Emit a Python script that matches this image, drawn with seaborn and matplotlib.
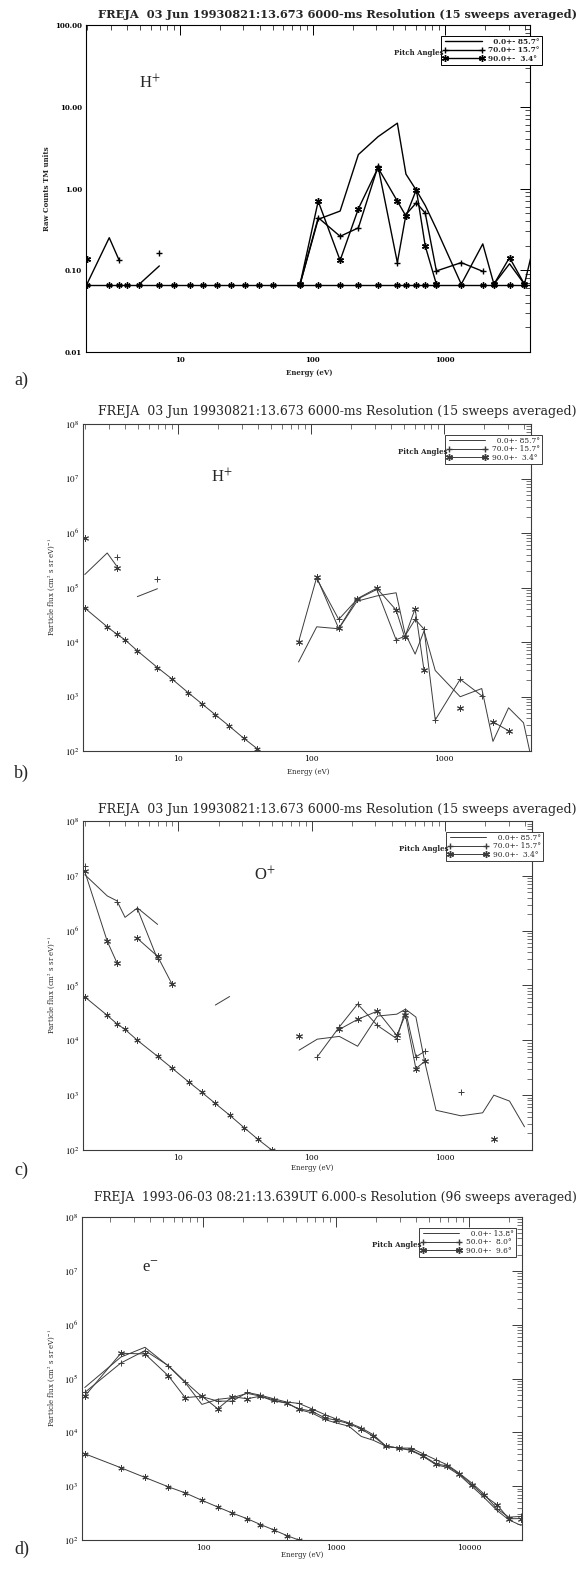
import numpy as np
import matplotlib
matplotlib.use("Agg")
import matplotlib.pyplot as plt
import matplotlib.ticker as mticker
from matplotlib.lines import Line2D
import seaborn as sns

n = np.nan

# ion energy steps (eV) used by panels a-c; the last one sits just past the right edge
energy_ion = [1.98, 2.92, 3.45, 3.97, 4.92, 6.97, 8.96, 11.9, 15.0, 18.9,
              24.2, 31.1, 39.3, 50.1, 80.3, 110, 161, 221, 311, 435,
              505, 605, 706, 857, 1320, 1918, 2328, 3052, 3953, 4900]

# a) H+ raw counts (TM units)
a_pa0 = [0.0675, 0.25, 0.135, n, 0.0675, 0.113, n, n, n, n,
         n, n, n, n, 0.0675, 0.42, 0.53, 2.6, 4.3, 6.3,
         1.5, 0.95, 0.62, 0.32, 0.0675, 0.21, 0.0675, 0.12, 0.0675, 0.29]
a_pa70 = [n, n, 0.135, n, n, 0.164, n, n, n, n,
          n, n, n, n, 0.0675, 0.44, 0.26, 0.33, 1.87, 0.124,
          0.48, 0.67, 0.50, 0.098, 0.124, 0.097, n, n, n, n]
a_pa90 = [0.136, n, n, n, n, n, n, n, n, n,
          n, n, n, n, 0.0675, 0.70, 0.132, 0.565, 1.79, 0.70,
          0.46, 0.97, 0.198, 0.0675, n, n, 0.0675, 0.143, 0.0675, n]
a_one = [0.0667, 0.0667, 0.0667, 0.0667, 0.0667, 0.0667, 0.0667, 0.0667, 0.0667, 0.0667,
         0.0667, 0.0667, 0.0667, 0.0667, 0.0667, 0.0667, 0.0667, 0.0667, 0.0667, 0.0667,
         0.0667, 0.0667, 0.0667, 0.0667, 0.0667, 0.0667, 0.0667, 0.0667, 0.0667, 0.0667]

# b) H+ particle flux
b_pa0 = [1.73e5, 4.3e5, 2.45e5, n, 6.8e4, 9.5e4, n, n, n, n,
         n, n, n, n, 4.3e3, 1.9e4, 1.75e4, 5.6e4, 7.0e4, 8.0e4,
         1.5e4, 6.0e3, 1.6e4, 3.0e3, 990, 1.4e3, 150, 620, 330, 30]
b_pa70 = [n, n, 3.57e5, n, n, 1.46e5, n, n, n, n,
          n, n, n, n, n, 1.46e5, 2.6e4, 6.05e4, 9.2e4, 1.1e4,
          1.27e4, 2.6e4, 1.72e4, 371, 2.07e3, 1.03e3, n, n, n, n]
b_pa90 = [8.0e5, n, 2.3e5, n, n, n, n, n, n, n,
          n, n, n, n, 1.0e4, 1.54e5, 1.77e4, 6.2e4, 9.7e4, 3.87e4,
          1.22e4, 4.1e4, 3.0e3, n, 617, n, 343, 235, n, n]
b_one = [4.2e4, 1.9e4, 1.39e4, 1.1e4, 6.9e3, 3.4e3, 2.1e3, 1.17e3, 740, 467,
         286, 171, 110, 68, n, n, n, n, n, n,
         n, n, n, n, n, n, n, n, n, n]

# c) O+ particle flux
c_pa0 = [1.05e7, 4.3e6, 3.5e6, 1.75e6, 2.6e6, 1.3e6, n, n, n, 4.4e4,
         6.3e4, n, n, n, 6.6e3, 1.05e4, 1.18e4, 7.8e3, 2.77e4, 3.0e4,
         3.7e4, 2.66e4, 4.0e3, 530, 420, 477, 1000, 780, 265, n]
c_pa70 = [1.5e7, n, 3.3e6, n, 2.5e6, 3.0e5, n, n, n, n,
          n, n, n, n, n, 5.0e3, 1.75e4, 4.6e4, 1.87e4, 1.07e4,
          3.5e4, 5.0e3, 6.3e3, n, 1.15e3, n, n, n, n, n]
c_pa90 = [1.2e7, 6.4e5, 2.6e5, n, 7.2e5, 3.4e5, 1.05e5, n, n, n,
          n, n, n, n, 1.18e4, n, 1.58e4, 2.41e4, 3.41e4, 1.23e4,
          2.93e4, 3.05e3, 4.15e3, n, n, n, 158, n, n, n]
c_one = [6.2e4, 2.85e4, 2.0e4, 1.58e4, 1.0e4, 5.1e3, 3.1e3, 1.75e3, 1.12e3, 705,
         432, 255, 158, 100, n, n, n, n, n, n,
         n, n, n, n, n, n, n, n, n, n]

# d) electrons
energy_e = [12.9, 24.1, 36.6, 54.9, 73.4, 98, 129, 166, 215, 270,
            340, 426, 524, 656, 822, 997, 1249, 1545, 1910, 2380,
            2980, 3660, 4530, 5670, 6880, 8460, 10600, 12850, 16200, 19900, 24650]
d_pa0 = [6.8e4, 2.5e5, 3.8e5, 1.7e5, 8.4e4, 3.3e4, 4.1e4, 4.4e4, 5.3e4, 4.7e4,
         3.8e4, 3.55e4, 2.66e4, 2.3e4, 1.73e4, 1.5e4, 1.3e4, 8.4e3, 7.1e3, 5.5e3,
         5.1e3, 4.6e3, 3.55e3, 2.48e3, 2.24e3, 1.61e3, 970, 630, 355, 237, 186]
d_pa50 = [5.5e4, 1.94e5, 3.3e5, 1.73e5, 8.7e4, 4.6e4, 3.8e4, 3.8e4, 5.5e4, 4.9e4,
          4.2e4, 3.65e4, 3.45e4, 2.74e4, 2.14e4, 1.78e4, 1.5e4, 1.21e4, 9.0e3, 5.5e3,
          5.1e3, 5.1e3, 3.98e3, 3.07e3, 2.48e3, 1.73e3, 1.12e3, 730, 381, 266, 274]
d_pa90 = [4.7e4, 2.94e5, 2.86e5, 1.12e5, 4.4e4, 4.7e4, 2.74e4, 4.6e4, 4.2e4, 4.7e4,
          4.0e4, 3.45e4, 2.74e4, 2.48e4, 1.86e4, 1.68e4, 1.45e4, 1.15e4, 8.4e3, 5.5e3,
          5.1e3, 4.7e3, 3.65e3, 2.59e3, 2.37e3, 1.68e3, 1.05e3, 680, 453, 248, 250]
d_one = [4.0e3, 2.2e3, 1.45e3, 972, 750, 546, 410, 316, 248, 194,
         154, 121, 100, n, n, n, n, n, n, n,
         n, n, n, n, n, n, n, n, n, n, n]

# y tick decades
counts_ticks = [0.01, 0.1, 1, 10, 100]
flux_ticks = [1e2, 1e3, 1e4, 1e5, 1e6, 1e7, 1e8]

title_ion = "FREJA  03 Jun 19930821:13.673 6000-ms Resolution (15 sweeps averaged)"
title_e = "FREJA  1993-06-03 08:21:13.639UT 6.000-s Resolution (96 sweeps averaged)"
legend_ion = ["  0.0+- 85.7°", "70.0+- 15.7°", "90.0+-  3.4°"]
legend_e = ["  0.0+- 13.8°", "50.0+-  8.0°", "90.0+-  9.6°"]
flux_label = "Particle flux (cm$^{2}$ s sr eV)$^{-1}$"

sns.set_style("white")
plt.rcParams["font.family"] = ["DejaVu Serif"]
plt.rcParams["mathtext.fontset"] = "stix"

W, H = 584, 1570
fig = plt.figure(figsize=(W / 100, H / 100), dpi=100)
STAR = (6, 2, 0)


def draw(ax, x, y, color, lw, marker=None, ms=5):
    x = np.asarray(x, dtype=float)
    y = np.asarray(y, dtype=float)
    good = np.flatnonzero(~np.isnan(y))
    for run in np.split(good, np.flatnonzero(np.diff(good) > 1) + 1):
        if len(run) == 0:
            continue
        sns.lineplot(x=x[run], y=y[run], ax=ax, color=color, linewidth=lw,
                     marker=marker, markersize=ms, markeredgecolor=color,
                     markeredgewidth=lw, estimator=None, sort=False, legend=False)


panels = [
    dict(box=(86, 530, 25, 352), x=energy_ion, series=(a_pa0, a_pa70, a_pa90, a_one),
         xlim=(1.95, 4355), ylim=(0.01, 100), xmajor=[10, 100, 1000], ymajor=counts_ticks,
         col="black", lw=1.0,
         bold=True, title=title_ion, tsize=8.2, ty=14, letter="a)", ly=380, ex=309, ey=373,
         ylabel="Raw Counts TM units", ylx=47, sp="H$^{+}$", spxy=(0.12, 0.823),
         leg=legend_ion, legx=1.027),
    dict(box=(83, 531, 424, 751), x=energy_ion, series=(b_pa0, b_pa70, b_pa90, b_one),
         xlim=(1.92, 4500), ylim=(1e2, 1e8), xmajor=[10, 100, 1000], ymajor=flux_ticks,
         col="#3c3c3c", lw=0.7,
         bold=False, title=title_ion, tsize=9.0, ty=411, letter="b)", ly=773, ex=308, ey=772,
         ylabel=flux_label, ylx=52, sp="H$^{+}$", spxy=(0.286, 0.838),
         leg=legend_ion, legx=1.025),
    dict(box=(83, 532, 821, 1150), x=energy_ion, series=(c_pa0, c_pa70, c_pa90, c_one),
         xlim=(1.92, 4500), ylim=(1e2, 1e8), xmajor=[10, 100, 1000], ymajor=flux_ticks,
         col="#3c3c3c", lw=0.7,
         bold=False, title=title_ion, tsize=9.0, ty=809, letter="c)", ly=1170, ex=312, ey=1168,
         ylabel=flux_label, ylx=52, sp="O$^{+}$", spxy=(0.381, 0.836),
         leg=legend_ion, legx=1.025),
    dict(box=(82, 522, 1217, 1540), x=energy_e, series=(d_pa0, d_pa50, d_pa90, d_one),
         xlim=(12.3, 25000), ylim=(1e2, 1e8), xmajor=[100, 1000, 10000], ymajor=flux_ticks,
         col="#3c3c3c", lw=0.7,
         bold=False, title=title_e, tsize=8.85, ty=1198, letter="d)", ly=1549, ex=302, ey=1555,
         ylabel=flux_label, ylx=52, sp="e$^{-}$", spxy=(0.136, 0.842),
         leg=legend_e, legx=0.986),
]

for p in panels:
    l, r, t, b = p["box"]
    ax = fig.add_axes([l / W, 1 - b / H, (r - l) / W, (b - t) / H])
    ax.set_xscale("log")
    ax.set_yscale("log")
    col, lw = p["col"], p["lw"]
    s0, s1, s2, one = p["series"]
    draw(ax, p["x"], one, col, lw, STAR, 4.5)
    draw(ax, p["x"], s0, col, lw)
    draw(ax, p["x"], s1, col, lw, "+", 5)
    draw(ax, p["x"], s2, col, lw, STAR, 5)

    ax.set_xlim(p["xlim"])
    ax.set_ylim(p["ylim"])
    ax.set_xlabel("")
    ax.set_ylabel("")
    ax.xaxis.set_major_locator(mticker.FixedLocator(p["xmajor"]))
    ax.xaxis.set_minor_locator(mticker.LogLocator(base=10, subs=np.arange(2, 10), numticks=30))
    ax.xaxis.set_major_formatter(mticker.FuncFormatter(lambda v, pos: f"{v:.0f}"))
    ax.xaxis.set_minor_formatter(mticker.NullFormatter())
    ax.yaxis.set_major_locator(mticker.FixedLocator(p["ymajor"]))
    ax.yaxis.set_minor_locator(mticker.LogLocator(base=10, subs=np.arange(2, 10), numticks=30))
    ax.yaxis.set_minor_formatter(mticker.NullFormatter())
    ax.tick_params(which="both", direction="in", top=True, right=True,
                   color=col, labelcolor="black")
    ax.tick_params(which="major", length=7, width=0.7, pad=3)
    ax.tick_params(which="minor", length=3.5, width=0.5)
    if p["bold"]:
        ax.yaxis.set_major_formatter(mticker.FuncFormatter(lambda v, pos: f"{v:.2f}"))
        ax.tick_params(which="major", labelsize=5)
        for lab in ax.get_xticklabels() + ax.get_yticklabels():
            lab.set_fontweight("bold")
    else:
        ax.yaxis.set_major_formatter(
            mticker.FuncFormatter(lambda v, pos: "$10^{%d}$" % round(np.log10(v))))
        ax.tick_params(axis="x", which="major", labelsize=5.5)
        ax.tick_params(axis="y", which="major", labelsize=6.5)
    for sp in ax.spines.values():
        sp.set_color(col)
        sp.set_linewidth(0.8)

    # legend box with pitch angles
    handles = [Line2D([], [], color=col, lw=lw),
               Line2D([], [], color=col, lw=lw, marker="+", ms=5, mec=col),
               Line2D([], [], color=col, lw=lw, marker=STAR, ms=5, mec=col)]
    leg = ax.legend(handles, p["leg"], loc="upper right", bbox_to_anchor=(p["legx"], 0.967),
                    borderaxespad=0, numpoints=2, handlelength=5.5, handletextpad=0.6,
                    labelspacing=0.05, borderpad=0.3, fancybox=False, framealpha=1,
                    edgecolor=col, prop={"size": 5.3, "weight": "bold" if p["bold"] else "normal"})
    leg.get_frame().set_linewidth(0.7)
    fig.canvas.draw()
    bb = leg.get_window_extent().transformed(ax.transAxes.inverted())
    ax.text(bb.x0 + 0.006, bb.y0 + 0.42 * (bb.y1 - bb.y0), "Pitch Angles", transform=ax.transAxes,
            ha="right", va="center", fontsize=5, fontweight="bold", zorder=10)

    ax.text(p["spxy"][0], p["spxy"][1], p["sp"], transform=ax.transAxes,
            fontsize=12, family="Liberation Serif", ha="left", va="center")

    fig.text(577 / W, 1 - p["ty"] / H, p["title"], ha="right", va="center",
             fontsize=p["tsize"], fontweight="bold" if p["bold"] else "normal")
    fig.text(p["ex"] / W, 1 - p["ey"] / H, "Energy (eV)", ha="center", va="center",
             fontsize=5, fontweight="bold" if p["bold"] else "normal")
    fig.text(p["ylx"] / W, 1 - (t + b) / 2 / H, p["ylabel"], rotation=90, ha="center",
             va="center", fontsize=5, fontweight="bold" if p["bold"] else "normal")
    fig.text(14 / W, 1 - p["ly"] / H, p["letter"], ha="left", va="center",
             fontsize=13, family="Liberation Serif")

fig.savefig("out.png", dpi=100, facecolor="white")
